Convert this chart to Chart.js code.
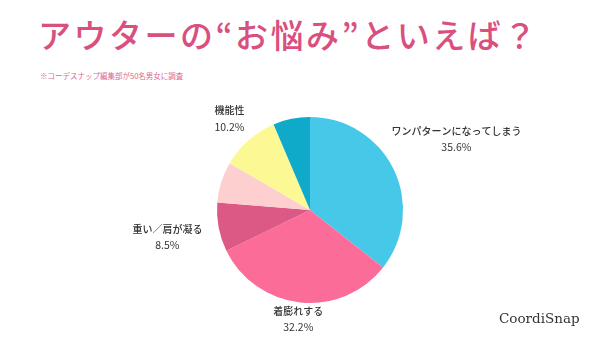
<!DOCTYPE html>
<html>
<head>
<meta charset="utf-8">
<script src="https://cdn.jsdelivr.net/npm/chart.js@4/dist/chart.umd.min.js"></script>
<style>
  body { margin: 0; background: #fff; }
  #wrap { position: relative; width: 600px; height: 338px; overflow: hidden; }
  #title {
    position: absolute; left: 38px; top: 10px;
    font-family: "Noto Sans CJK JP", sans-serif; font-weight: 500;
    font-size: 33px; letter-spacing: 2.5px; color: #d9507f; white-space: nowrap;
  }
  #note {
    position: absolute; left: 40px; top: 70px;
    font-family: "Noto Sans CJK JP", sans-serif; font-size: 7.5px; color: #e0668f;
  }
  #brand {
    position: absolute; left: 499px; top: 310px;
    font-family: "DejaVu Serif", serif; font-size: 13.5px; color: #333;
  }
  canvas { position: absolute; left: 0; top: 0; }
</style>
</head>
<body>
<div id="wrap">
  <div id="title">アウターの“お悩み”といえば？</div>
  <div id="note">※コーデスナップ編集部が50名男女に調査</div>
  <canvas id="pie" width="600" height="338"></canvas>
  <div id="brand">CoordiSnap</div>
</div>
<script>
// 回答カテゴリ（時計回り、12時から）
const categories = ["ワンパターンになってしまう", "着膨れする", "重い／肩が凝る", "その他", "機能性", "その他2"];
const percents = [35.6, 32.2, 8.5, 7.1, 10.2, 6.4];
const showLabel = [true, true, true, false, true, false];
const sliceColors = ["#46c9e9", "#fb6c99", "#dc5885", "#fdcfcf", "#fcf995", "#0fa9ca"];
const labelDist = [1.75, 1.18, 1.56, 1.3, 1.31, 1.3];

const outerLabels = {
    id: "outerLabels",
    afterDatasetsDraw(chart) {
        const ctx = chart.ctx;
        const meta = chart.getDatasetMeta(0);
        ctx.save();
        ctx.textAlign = "center";
        ctx.textBaseline = "middle";
        ctx.fillStyle = "#333";
        meta.data.forEach(function (arc, i) {
            if (!showLabel[i]) return;
            const mid = (arc.startAngle + arc.endAngle) / 2;
            const r = arc.outerRadius * labelDist[i];
            const x = arc.x + Math.cos(mid) * r;
            const y = arc.y + Math.sin(mid) * r;
            ctx.font = "500 10px 'Noto Sans CJK JP'";
            ctx.fillText(categories[i], x, y - 8);
            ctx.font = "10.5px 'Noto Sans CJK JP'";
            ctx.fillText(percents[i].toFixed(1) + "%", x, y + 8);
        });
        ctx.restore();
    }
};

const ctx = document.getElementById("pie").getContext("2d");
new Chart(ctx, {
    type: "pie",
    data: {
        labels: categories,
        datasets: [{
            data: percents,
            backgroundColor: sliceColors,
            borderWidth: 0,
        }],
    },
    options: {
        responsive: false,
        animation: false,
        layout: { padding: { top: 117, bottom: 35, left: 217, right: 197 } },
        plugins: {
            legend: { display: false },
            tooltip: { enabled: false },
        },
    },
    plugins: [outerLabels],
});
</script>
</body>
</html>
